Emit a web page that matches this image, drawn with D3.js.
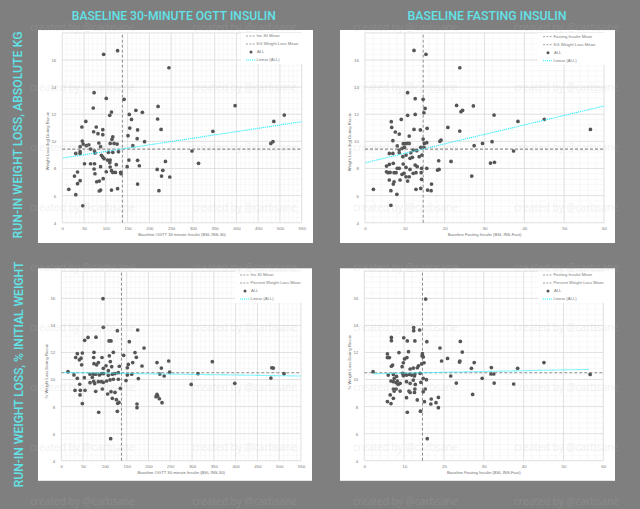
<!DOCTYPE html>
<html>
<head>
<meta charset="utf-8">
<script src="https://cdn.jsdelivr.net/npm/d3@7"></script>
<style>
  body { margin: 0; background: #7f7f7f; }
  svg { display: block; }
</style>
</head>
<body>
<div id="vis"></div>
<script>

// ---- data ----

// baseline 30 min OGTT insulin vs weight loss (kg)
var ogttKg = [[95,16.42],[127,16.69],[245,15.43],[73,13.59],[101,13.17],[142,13.10],[71,12.46],[220,12.58],[397,12.63],[169,12.29],[184,12.14],[113,12.16],[109,11.92],[154,11.99],[510,11.94],[219,11.65],[159,11.62],[54,11.47],[486,11.47],[78,11.06],[45,11.06],[155,10.98],[227,10.88],[93,10.86],[173,10.84],[72,10.71],[82,10.57],[346,10.74],[93,10.49],[116,10.34],[151,10.42],[114,10.15],[172,10.20],[46,10.02],[189,9.98],[84,9.88],[119,9.85],[110,9.85],[126,9.80],[48,9.80],[61,9.75],[55,9.68],[41,9.61],[88,9.61],[162,9.68],[65,9.43],[74,9.29],[41,9.24],[31,9.11],[41,9.11],[75,9.14],[106,9.19],[116,9.19],[129,9.24],[90,8.97],[93,8.84],[298,9.29],[110,8.62],[173,8.60],[237,8.52],[51,8.35],[65,8.35],[74,8.35],[109,8.43],[153,8.62],[124,8.28],[313,8.38],[177,8.20],[149,8.13],[88,8.13],[110,8.11],[73,7.96],[218,7.93],[231,7.86],[113,7.84],[101,7.76],[35,7.74],[75,7.61],[116,7.71],[122,7.71],[134,7.71],[135,7.61],[28,7.44],[228,7.44],[247,7.37],[94,7.25],[41,7.10],[79,7.02],[85,7.07],[35,6.88],[173,6.85],[15,6.46],[88,6.41],[85,6.34],[113,6.41],[127,6.51],[222,6.36],[31,6.07],[47,5.25],[479,9.85],[484,9.98],[96,8.72],[104,8.62]];

// baseline fasting insulin vs weight loss (kg)
var fastKg = [[12.3,16.71],[15.3,16.42],[23.8,15.43],[10.7,13.59],[12.6,13.15],[14.6,13.10],[15.1,12.43],[14.8,12.11],[12.6,11.99],[10.7,11.92],[9.1,11.62],[6.6,11.45],[6.7,11.03],[7.6,10.69],[8.6,10.54],[11.1,10.39],[12.3,10.88],[13.9,10.84],[15.6,10.96],[7.0,10.05],[14.6,10.17],[14.9,9.85],[15.5,9.90],[9.6,9.83],[10.1,9.83],[10.6,9.85],[11.1,9.85],[8.1,9.66],[8.6,9.36],[9.3,9.48],[9.9,9.56],[12.1,9.36],[13.0,9.31],[14.0,9.56],[14.8,9.56],[6.1,9.11],[7.0,9.11],[8.6,9.16],[9.5,8.87],[10.3,8.99],[11.5,9.16],[11.3,8.75],[11.9,8.82],[13.6,8.87],[14.3,8.99],[5.4,8.18],[6.1,8.30],[7.1,8.38],[8.1,8.01],[8.6,8.01],[9.6,8.33],[10.3,8.08],[11.3,7.93],[12.6,8.25],[13.1,8.13],[14.2,8.01],[15.5,8.01],[5.4,7.76],[5.8,7.69],[6.3,7.71],[7.3,7.69],[7.8,7.69],[9.3,7.57],[9.8,7.64],[10.3,7.39],[11.1,7.39],[12.1,7.64],[12.8,7.69],[14.1,7.69],[6.1,7.15],[7.3,7.02],[7.1,6.85],[8.8,7.15],[10.7,7.07],[14.2,7.20],[18.5,8.57],[18.2,7.88],[18.6,7.93],[21.6,8.52],[16.7,6.85],[15.7,6.41],[16.6,6.36],[14.0,6.53],[12.8,6.46],[2.1,6.46],[6.5,6.36],[8.0,6.09],[6.5,5.28],[23.0,12.65],[24.1,12.19],[24.5,12.29],[20.8,11.03],[23.8,10.76],[19.1,10.10],[18.8,10.00],[27.2,12.61],[32.4,11.94],[38.4,11.47],[45.0,11.62],[56.6,10.88],[29.5,9.85],[31.9,9.98],[27.4,9.68],[37.3,9.29],[31.5,8.40],[32.5,8.45],[26.8,7.44]];

// baseline 30 min OGTT insulin vs weight loss (% initial)
var ogttPct = [[95.7,15.98],[96.5,13.86],[128.6,13.61],[175.3,13.66],[61.3,13.11],[53.6,12.90],[79.6,13.13],[109.5,12.85],[114.1,12.85],[156.1,12.80],[189.8,12.33],[169.1,11.99],[143.1,11.79],[119.4,12.01],[110.2,11.75],[112.5,11.33],[75.0,12.01],[74.3,11.63],[93.4,11.63],[75.0,11.17],[48.3,11.96],[36.8,11.91],[33.0,11.63],[45.2,11.58],[46.7,11.09],[41.4,11.46],[81.2,11.09],[85.0,11.26],[102.6,11.02],[96.5,10.83],[108,10.66],[115.6,10.95],[133.2,10.98],[172.2,11.64],[163.8,11.25],[153.8,11.12],[151.5,10.87],[185.2,11.00],[219.6,11.25],[229.6,10.85],[246.4,11.37],[15.4,10.58],[29.1,10.34],[36.8,10.09],[52.9,10.14],[65.9,10.39],[73.5,10.39],[71.2,10.17],[78.9,10.39],[87.3,10.34],[92.6,10.44],[97.2,10.44],[107.9,10.31],[117.1,10.39],[123.2,10.44],[130.9,10.51],[65.9,9.77],[74.3,9.87],[76.6,9.70],[85.0,9.84],[91.9,9.84],[96.5,9.79],[104.1,9.89],[111.8,9.97],[119.4,10.02],[130.9,10.02],[42.2,9.65],[43.7,9.20],[31.4,9.20],[54.4,9.20],[78.9,9.13],[94.2,9.30],[106.4,8.93],[114.1,9.10],[123.2,9.05],[135.5,9.35],[42.9,8.86],[48.3,8.22],[117.1,8.61],[126.3,8.51],[129.4,8.24],[132.4,8.31],[148.5,9.92],[151.5,10.34],[161.5,10.39],[176.8,10.07],[219.6,8.90],[217.3,8.73],[221.2,8.78],[225,8.58],[231.1,8.29],[173.7,8.19],[173.7,7.92],[85.8,7.58],[128.6,7.65],[113.3,5.63],[346.5,11.32],[486.5,10.85],[483,10.87],[511,10.43],[481,10.11],[313.6,10.43],[398,9.72],[298,9.64],[248.6,10.55],[236,10.26],[226,10.40]];

// baseline fasting insulin vs weight loss (% initial)
var fastPct = [[15.4,15.95],[12.4,13.84],[12.4,13.61],[13.9,13.66],[6.8,13.11],[6.8,12.87],[9.9,13.09],[10.8,12.85],[12.7,12.85],[15.7,12.80],[24.1,12.82],[19.0,12.33],[24.6,12.03],[11.1,12.06],[8.7,11.99],[5.8,11.89],[5.8,11.62],[6.3,11.62],[20.9,11.56],[19.4,11.37],[23.9,11.29],[24.0,11.37],[14.6,11.91],[14.5,11.75],[14.8,11.67],[10.7,11.62],[10.1,11.52],[9.8,11.24],[9.5,10.95],[7.1,11.07],[6.8,10.98],[14.4,11.15],[15.0,11.24],[13.6,11.02],[13.3,10.87],[11.5,10.78],[12.3,10.85],[2.2,10.58],[6.0,10.33],[7.3,10.38],[8.1,10.23],[7.5,10.08],[9.6,10.46],[10.0,10.38],[9.8,10.28],[10.6,10.33],[11.3,10.38],[11.9,10.33],[12.6,10.26],[12.7,10.41],[14.0,10.46],[14.8,10.09],[6.7,9.89],[7.3,9.84],[8.0,9.77],[8.3,9.89],[9.0,9.72],[8.5,9.64],[10.6,9.84],[11.5,9.72],[12.3,9.96],[12.8,9.64],[14.2,9.79],[9.0,9.15],[8.0,9.30],[7.5,9.15],[7.3,9.30],[11.2,9.15],[11.5,9.05],[12.6,9.05],[12.7,9.30],[10.6,8.66],[6.5,8.86],[5.8,8.37],[6.7,8.22],[7.3,8.61],[13.3,8.49],[14.8,9.10],[15.3,9.30],[14.1,7.66],[10.8,7.58],[15.8,5.63],[27.6,11.25],[26.9,10.83],[31.9,10.88],[38.5,10.83],[45.1,11.25],[56.7,10.38],[29.6,10.09],[31.8,10.41],[32.5,10.41],[32.6,9.74],[37.5,9.67],[23.1,9.74],[21.7,10.26],[27.2,8.90],[18.6,8.68],[18.0,8.29],[18.6,7.92],[16.8,8.56],[16.7,8.19],[15.1,8.36],[15.6,9.99]];

var yTicks = [4, 6, 8, 10, 12, 14, 16];
var ogttTicks = [0, 50, 100, 150, 200, 250, 300, 350, 400, 450, 500, 550];
var fastTicks = [0, 10, 20, 30, 40, 50, 60];

var ogttMean = 138, fastMean = 14.6, kgMean = 9.43, pctMean = 10.5;

// linear fits as drawn, [x, y] at each end
var trendOgttKg = [[2.3, 8.78], [550, 11.45]];
var trendFastKg = [[0.2, 8.43], [60, 12.61]];
var trendOgttPct = [[5, 10.52], [550, 10.26]];
var trendFastPct = [[2.3, 10.43], [56.5, 10.75]];

var colTitles = ["BASELINE 30-MINUTE OGTT INSULIN", "BASELINE FASTING INSULIN"];
var rowTitles = ["RUN-IN WEIGHT LOSS, ABSOLUTE KG", "RUN-IN WEIGHT LOSS, % INITIAL WEIGHT"];
var xTitles = ["Baseline OGTT 30 minute Insulin (BSL INS-30)", "Baseline Fasting Insulin (BSL INS-Fast)"];
var yTitles = ["Weight Loss (kg) During Run-in", "% Weight Loss During Run-in"];
var xMeanNames = ["Ins 30 Mean", "Fasting Insulin Mean"];
var yMeanNames = ["KG Weight Loss Mean", "Percent Weight Loss Mean"];

// ---- layout ----

var W = 640, H = 509;
var cyan = "#62e3e8";

var panels = [
  {data: ogttKg, xTicks: ogttTicks, xMinor: 10, xMean: ogttMean, yMean: kgMean, trend: trendOgttKg,
   xt: xTitles[0], yt: yTitles[0], leg: [xMeanNames[0], yMeanNames[0]],
   box: [38, 30, 275, 213], plot: [62.3, 32.9, 301.7, 222.7], legAt: [246, 36], ytY: 141},
  {data: fastKg, xTicks: fastTicks, xMinor: 2, xMean: fastMean, yMean: kgMean, trend: trendFastKg,
   xt: xTitles[1], yt: yTitles[0], leg: [xMeanNames[1], yMeanNames[0]],
   box: [340, 30, 275, 213], plot: [365, 32.9, 604, 222.7], legAt: [543, 36.7], ytY: 142},
  {data: ogttPct, xTicks: ogttTicks, xMinor: 10, xMean: ogttMean, yMean: pctMean, trend: trendOgttPct,
   xt: xTitles[0], yt: yTitles[1], leg: [xMeanNames[0], yMeanNames[1]],
   box: [38, 268.3, 274, 212.5], plot: [61.3, 271.3, 301, 460.7], legAt: [240, 275], ytY: 371},
  {data: fastPct, xTicks: fastTicks, xMinor: 2, xMean: fastMean, yMean: pctMean, trend: trendFastPct,
   xt: xTitles[1], yt: yTitles[1], leg: [xMeanNames[1], yMeanNames[1]],
   box: [340, 268.3, 275, 212.5], plot: [364.3, 271.3, 603.3, 460.7], legAt: [543, 275], ytY: 362}
];

var svg = d3.select("#vis")
  .append("svg")
    .attr("width", W)
    .attr("height", H);

svg.append("rect")
  .attr("width", W).attr("height", H)
  .attr("fill", "#7f7f7f");

var tiny = "'Liberation Sans', Arial, sans-serif";

panels.forEach(function(p) {
  var xMax = p.xTicks[p.xTicks.length - 1];
  var x = d3.scaleLinear().domain([0, xMax]).range([p.plot[0], p.plot[2]]);
  var y = d3.scaleLinear().domain([4, 18]).range([p.plot[3], p.plot[1]]);

  var g = svg.append("g");

  g.append("rect")
    .attr("x", p.box[0]).attr("y", p.box[1])
    .attr("width", p.box[2]).attr("height", p.box[3])
    .attr("fill", "#fff");

  // minor grid
  g.selectAll(".vminor")
    .data(d3.range(0, xMax + 1e-9, p.xMinor))
    .enter().append("line")
      .attr("x1", function(d) { return x(d); }).attr("x2", function(d) { return x(d); })
      .attr("y1", y(4)).attr("y2", y(18))
      .attr("stroke", "#f0f0f0").attr("stroke-width", 0.5);

  g.selectAll(".hminor")
    .data(d3.range(4, 18.001, 0.4))
    .enter().append("line")
      .attr("y1", function(d) { return y(d); }).attr("y2", function(d) { return y(d); })
      .attr("x1", x(0)).attr("x2", x(xMax))
      .attr("stroke", "#f0f0f0").attr("stroke-width", 0.5);

  // major grid
  g.selectAll(".vmajor")
    .data(p.xTicks)
    .enter().append("line")
      .attr("x1", function(d) { return x(d); }).attr("x2", function(d) { return x(d); })
      .attr("y1", y(4)).attr("y2", y(18))
      .attr("stroke", "#d9d9d9").attr("stroke-width", 0.7);

  g.selectAll(".hmajor")
    .data(yTicks.concat([18]))
    .enter().append("line")
      .attr("y1", function(d) { return y(d); }).attr("y2", function(d) { return y(d); })
      .attr("x1", x(0)).attr("x2", x(xMax))
      .attr("stroke", "#d9d9d9").attr("stroke-width", 0.7);

  // axes (labels only)
  var xAxis = d3.axisBottom(x).tickValues(p.xTicks).tickSize(0).tickPadding(4);
  var yAxis = d3.axisLeft(y).tickValues(yTicks).tickSize(0).tickPadding(6);

  g.append("g")
    .attr("transform", "translate(0," + y(4) + ")")
    .call(xAxis)
    .call(function(a) { a.select(".domain").remove(); })
    .selectAll("text")
      .attr("fill", "#7a7a7a")
      .style("font-size", "4.4px")
      .style("font-family", tiny);

  g.append("g")
    .attr("transform", "translate(" + x(0) + ",0)")
    .call(yAxis)
    .call(function(a) { a.select(".domain").remove(); })
    .selectAll("text")
      .attr("fill", "#7a7a7a")
      .style("font-size", "4.4px")
      .style("font-family", tiny);

  // axis titles
  g.append("text")
    .attr("x", (p.plot[0] + p.plot[2]) / 2)
    .attr("y", p.plot[3] + 13)
    .attr("text-anchor", "middle")
    .attr("fill", "#707070")
    .style("font-size", "4.2px")
    .style("font-family", tiny)
    .text(p.xt);

  g.append("text")
    .attr("transform", "translate(" + (p.plot[0] - 13.6) + "," + p.ytY + ") rotate(-90)")
    .attr("text-anchor", "middle")
    .attr("fill", "#707070")
    .style("font-size", "4.2px")
    .style("font-family", tiny)
    .text(p.yt);

  // legend background hides the grid
  var lx = p.legAt[0], ly = p.legAt[1];
  g.append("rect")
    .attr("x", lx - 5).attr("y", p.plot[1])
    .attr("width", p.plot[2] - lx + 6).attr("height", ly + 28 - p.plot[1])
    .attr("fill", "#fff");

  // mean lines
  g.append("line")
    .attr("x1", x(p.xMean)).attr("x2", x(p.xMean))
    .attr("y1", y(4)).attr("y2", y(18))
    .attr("stroke", "#8c8c8c").attr("stroke-width", 1)
    .attr("stroke-dasharray", "3,2");

  g.append("line")
    .attr("x1", x(0)).attr("x2", x(xMax))
    .attr("y1", y(p.yMean)).attr("y2", y(p.yMean))
    .attr("stroke", "#8c8c8c").attr("stroke-width", 1.2)
    .attr("stroke-dasharray", "3,2");

  // points
  g.selectAll(".pt")
    .data(p.data)
    .enter().append("circle")
      .attr("cx", function(d) { return x(d[0]); })
      .attr("cy", function(d) { return y(d[1]); })
      .attr("r", 1.85)
      .attr("fill", "#555");

  // linear fit
  g.append("line")
    .attr("x1", x(p.trend[0][0])).attr("y1", y(p.trend[0][1]))
    .attr("x2", x(p.trend[1][0])).attr("y2", y(p.trend[1][1]))
    .attr("stroke", "#2ff0ff").attr("stroke-width", 1.1)
    .attr("stroke-dasharray", "1.2,0.8");

  // legend
  var items = [p.leg[0], p.leg[1], "ALL", "Linear (ALL)"];
  var leg = g.selectAll(".leg")
    .data(items)
    .enter().append("g")
      .attr("transform", function(d, i) { return "translate(" + lx + "," + (ly + i * 8) + ")"; });

  leg.each(function(d, i) {
    var s = d3.select(this);
    if (i < 2) {
      s.append("line").attr("x1", 0).attr("x2", 9).attr("y1", 0).attr("y2", 0)
        .attr("stroke", "#8c8c8c").attr("stroke-width", 0.8).attr("stroke-dasharray", "2,1.3");
    } else if (i == 2) {
      s.append("circle").attr("cx", 5).attr("cy", 0).attr("r", 1.5).attr("fill", "#555");
    } else {
      s.append("line").attr("x1", 0).attr("x2", 10).attr("y1", 0).attr("y2", 0)
        .attr("stroke", "#2ff0ff").attr("stroke-width", 1).attr("stroke-dasharray", "1.2,0.8");
    }
    s.append("text")
      .attr("x", i == 2 ? 11 : 10.5).attr("y", 1.4)
      .attr("fill", "#7a7a7a")
      .style("font-size", "4.2px")
      .style("font-family", tiny)
      .text(d);
  });
});

// column and row titles
var titleFont = "Roboto, 'Noto Sans', sans-serif";

svg.selectAll(".coltitle")
  .data(colTitles)
  .enter().append("text")
    .attr("x", function(d, i) { return i == 0 ? 173.8 : 487; })
    .attr("y", 20)
    .attr("text-anchor", "middle")
    .attr("textLength", function(d, i) { return i == 0 ? 204 : 159; })
    .attr("lengthAdjust", "spacingAndGlyphs")
    .attr("fill", cyan)
    .style("font-size", "13px")
    .style("font-weight", 500)
    .style("font-family", titleFont)
    .text(function(d) { return d; });

svg.selectAll(".rowtitle")
  .data(rowTitles)
  .enter().append("text")
    .attr("transform", function(d, i) {
      return i == 0 ? "translate(21.7,135) rotate(-90)" : "translate(22.7,374.5) rotate(-90)";
    })
    .attr("text-anchor", "middle")
    .attr("textLength", function(d, i) { return i == 0 ? 207 : 225.6; })
    .attr("lengthAdjust", "spacingAndGlyphs")
    .attr("fill", cyan)
    .style("font-size", "13px")
    .style("font-weight", 500)
    .style("font-family", titleFont)
    .text(function(d) { return d; });

// faint watermark grid
var marks = [];
d3.range(9).forEach(function(r) {
  [30, 192, 353, 514].forEach(function(cx) { marks.push([cx, Math.min(31 + r * 60, 505)]); });
});

svg.selectAll(".wm")
  .data(marks)
  .enter().append("text")
    .attr("x", function(d) { return d[0]; })
    .attr("y", function(d) { return d[1]; })
    .attr("textLength", 105)
    .attr("lengthAdjust", "spacingAndGlyphs")
    .attr("fill", "#bbbbbb")
    .attr("opacity", 0.2)
    .style("font-size", "11px")
    .style("font-family", "'Open Sans', sans-serif")
    .text("created by @carbsane");

</script>
</body>
</html>
